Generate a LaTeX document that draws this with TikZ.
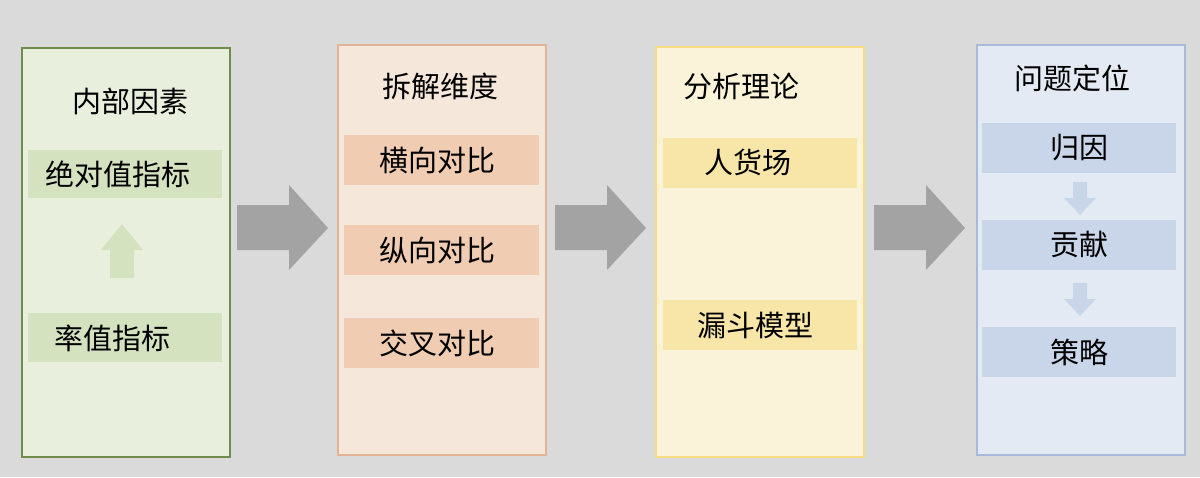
\documentclass[tikz,border=0pt]{standalone}
\usepackage{fontspec}
\newfontfamily\cjk{Noto Sans CJK SC}
\definecolor{bg}{HTML}{DADADA}
\definecolor{gfill}{HTML}{E9EFDD}\definecolor{gline}{HTML}{6E8C4A}\definecolor{gbox}{HTML}{D4E2C0}\definecolor{garr}{HTML}{D4E2C0}
\definecolor{ofill}{HTML}{F6E7DB}\definecolor{oline}{HTML}{E2B495}\definecolor{obox}{HTML}{F0CDB2}
\definecolor{yfill}{HTML}{FBF3D9}\definecolor{yline}{HTML}{F6DD85}\definecolor{ybox}{HTML}{F8E6A9}
\definecolor{bfill}{HTML}{E4EAF4}\definecolor{bline}{HTML}{A9B9D9}\definecolor{bbox}{HTML}{C9D6EA}\definecolor{barr}{HTML}{C9D6EA}
\definecolor{bigarr}{HTML}{A3A3A3}
\begin{document}
\begin{tikzpicture}[x=1pt,y=-1pt,
 txt/.style={font=\cjk\fontsize{29}{32}\selectfont,text=black},
 panel/.style={line width=1.5pt}]
\fill[bg] (0,0) rectangle (1200,477);
\useasboundingbox (0,0) rectangle (1200,477);
% panels
\draw[panel,fill=gfill,draw=gline] (22,48) rectangle (230,457);
\draw[panel,fill=ofill,draw=oline] (338,45) rectangle (546,455);
\draw[panel,fill=yfill,draw=yline] (656,47) rectangle (864,457);
\draw[panel,fill=bfill,draw=bline] (977,45) rectangle (1185,455);
% titles
\node[txt] (t1) at (130,101) {内部因素};
\node[txt] (t2) at (440,86) {拆解维度};
\node[txt] (t3) at (741,86) {分析理论};
\node[txt] (t4) at (1072,78) {问题定位};
% green items
\fill[gbox] (28,150) rectangle (222,198); \node[txt] (g1) at (118,174) {绝对值指标};
\fill[gbox] (28,313) rectangle (222,362); \node[txt] (g2) at (112,338) {率值指标};
\fill[garr] (110,278) -- (110,250) -- (101,250) -- (122,224) -- (143,250) -- (134,250) -- (134,278) -- cycle;
% orange items
\fill[obox] (344,135) rectangle (539,185); \node[txt] (o1) at (437,160) {横向对比};
\fill[obox] (344,225) rectangle (539,275); \node[txt] (o2) at (437,250) {纵向对比};
\fill[obox] (344,318) rectangle (539,368); \node[txt] (o3) at (437,343) {交叉对比};
% yellow items
\fill[ybox] (663,138) rectangle (857,188); \node[txt] (y1) at (748,162) {人货场};
\fill[ybox] (663,300) rectangle (857,350); \node[txt] (y2) at (755,325) {漏斗模型};
% blue items
\fill[bbox] (982,123) rectangle (1176,173); \node[txt] (b1) at (1079,148) {归因};
\fill[bbox] (982,220) rectangle (1176,270); \node[txt] (b2) at (1079,245) {贡献};
\fill[bbox] (982,327) rectangle (1176,377); \node[txt] (b3) at (1079,352) {策略};
\foreach \y in {182,283}{
 \fill[barr] (1073,\y) -- (1073,\y+16) -- (1064,\y+16) -- (1080,\y+33) -- (1096,\y+16) -- (1087,\y+16) -- (1087,\y) -- cycle;}
% big arrows
\foreach \x in {237,555,874}{
 \fill[bigarr] (\x,205) -- (\x+52,205) -- (\x+52,185) -- (\x+91,228) -- (\x+52,270) -- (\x+52,250) -- (\x,250) -- cycle;}
\end{tikzpicture}
\end{document}
